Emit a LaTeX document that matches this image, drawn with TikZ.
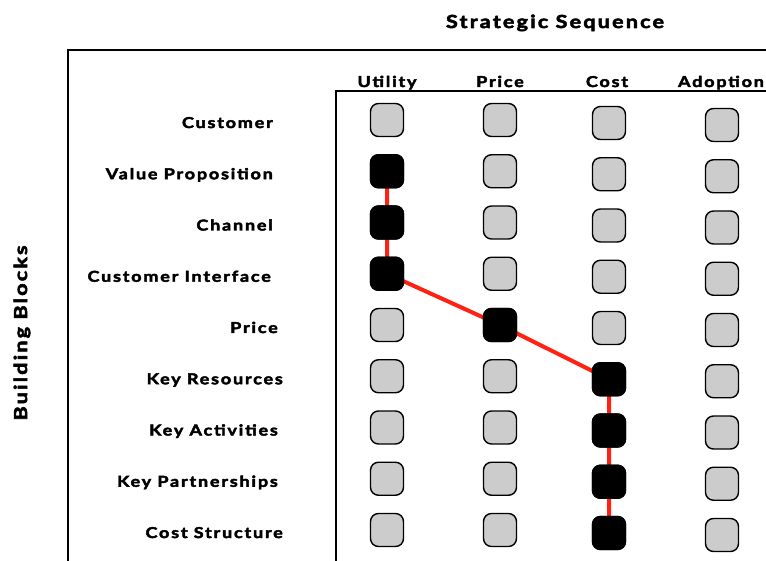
\documentclass[tikz,border=0pt]{standalone}
\usepackage{fontspec}
\setmainfont{Lato}[LetterSpace=12, BoldFeatures={FakeBold=3, FakeStretch=1.2}]
\usetikzlibrary{positioning, backgrounds}
\definecolor{boxgray}{rgb}{0.8,0.8,0.8}
\definecolor{seqred}{rgb}{1,0.13,0.07}
\tikzset{
    x=1pt, y=-1pt, % one unit per pixel, downwards
    block/.style={draw, line width=1.4pt, rounded corners=8pt, fill=boxgray, minimum size=33pt, inner sep=0pt}, % empty cell
    picked/.style={block, fill=black}, % chosen cell
    seqline/.style={draw=seqred, line width=4pt}, % strategic sequence
    frame/.style={line width=1.8pt}, % table rules
    rowlabel/.style={anchor=base east, inner sep=0pt, font=\bfseries\fontsize{15}{17}\selectfont}, % building blocks
    collabel/.style={anchor=base, inner sep=0pt, font=\bfseries\fontsize{15}{17}\selectfont}, % sequence steps
    heading/.style={inner sep=0pt, font=\bfseries\fontsize{18}{20}\selectfont}, % axis titles
}

\begin{document}
\begin{tikzpicture}
    \useasboundingbox (0,0) rectangle (766,561);

    \node[heading, anchor=base] (title) at (555,28) {Strategic Sequence};
    \node[heading, rotate=90] (side) at (22,333) {Building Blocks};

    \draw[frame] (68,561) |- (766,50);
    \draw[frame] (336,561) |- (766,91);

    \node[collabel] (hu) at (387,87) {Utility};
    \node[collabel] (hp) at (500,87) {Price};
    \node[collabel] (hc) at (607,87) {Cost};
    \node[collabel] (ha) at (721,87) {Adoption};

    \foreach \lab/\xr [count=\i] in {Customer/273, Value Proposition/273, Channel/273,
        Customer Interface/271, Price/278, Key Resources/283, Key Activities/278,
        Key Partnerships/278, Cost Structure/283}
        \node[rowlabel] (r\i) at (\xr, {128+51.25*(\i-1)}) {\lab};

    \foreach \c/\x/\dy in {u/387/-2, p/500/-2, c/609/1, a/722/3}
        \foreach \i in {1,...,9}
            \node[block] (\c\i) at (\x, {122+51.25*(\i-1)+\dy}) {};

    \foreach \n in {u2, u3, u4, p5, c6, c7, c8, c9}
        \node[picked] at (\n) {};

    \begin{pgfonlayer}{background}
        \draw[seqline] (u2.center) -- (u3.center) -- (u4.center) -- (p5.center)
            -- (c6.center) -- (c7.center) -- (c8.center) -- (c9.center);
    \end{pgfonlayer}
\end{tikzpicture}
\end{document}
